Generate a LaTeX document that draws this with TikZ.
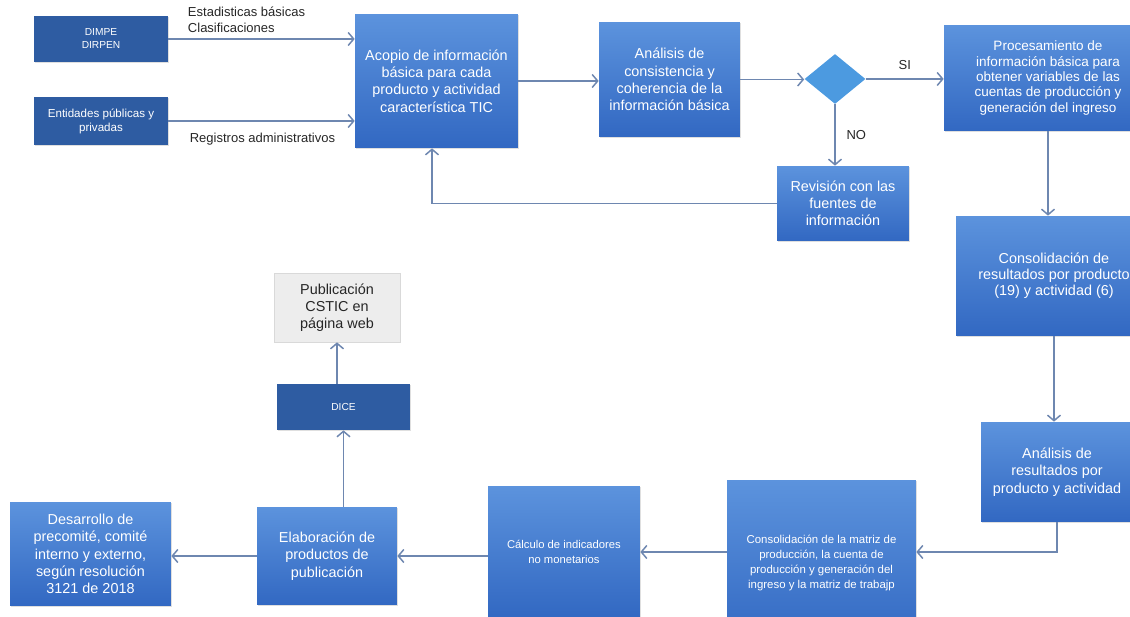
\documentclass[tikz,border=0pt]{standalone}
\usepackage{fontspec}
\setmainfont{Liberation Sans}
\usetikzlibrary{shapes.geometric, arrows, arrows.meta, positioning, shadows}
\definecolor{boxtop}{HTML}{5C93DD}
\definecolor{boxbot}{HTML}{3268C2}
\definecolor{darkbox}{HTML}{2E5CA2}
\definecolor{diamondcol}{HTML}{4C9AE0}
\definecolor{arrowcol}{HTML}{6E87B0}
\definecolor{webfill}{HTML}{EDEDED}
\tikzstyle{process} = [rectangle, align=center, top color=boxtop, bottom color=boxbot, draw=none, text=white, font=\fontsize{8.2}{9.8}\selectfont, drop shadow={opacity=0.25, shadow xshift=0.6pt, shadow yshift=-0.6pt}]
\tikzstyle{sourcebox} = [rectangle, align=center, fill=darkbox, draw=none, text=white, font=\fontsize{5.8}{7.4}\selectfont, drop shadow={opacity=0.25, shadow xshift=0.6pt, shadow yshift=-0.6pt}]
\tikzstyle{decision} = [diamond, inner sep=0pt, fill=diamondcol, draw=none]
\tikzstyle{webbox} = [rectangle, align=center, fill=webfill, draw=black!15, text=black!85, font=\fontsize{8.2}{9.8}\selectfont, drop shadow={opacity=0.2, shadow xshift=0.6pt, shadow yshift=-0.6pt}]
\tikzstyle{note} = [align=left, text=black!85, font=\fontsize{7.4}{8.9}\selectfont]
\tikzstyle{arrow} = [draw=arrowcol, line width=0.85pt, ->, >={Straight Barb[length=1.1mm, width=2.6mm]}]

\begin{document}
\begin{tikzpicture}[x=0.02cm, y=-0.02cm]
\useasboundingbox (0,0) rectangle (1130,617);

\node (dimpe) [sourcebox, minimum width=2.68cm, minimum height=0.92cm] at (101,39) {DIMPE\\DIRPEN};
\node (entidades) [sourcebox, minimum width=2.68cm, minimum height=0.96cm, font=\fontsize{6.6}{8}\selectfont] at (101,121) {Entidades públicas y\\privadas};
\node (acopio) [process, minimum width=3.26cm, minimum height=2.68cm] at (436.5,81) {Acopio de información\\básica para cada\\producto y actividad\\característica TIC};
\node (analisis) [process, minimum width=2.82cm, minimum height=2.3cm] at (669.5,79.5) {Análisis de\\consistencia y\\coherencia de la\\información básica};
\node (check) [decision, minimum width=1.22cm, minimum height=1cm] at (835,79) {};
\node (proces) [process, minimum width=4.16cm, minimum height=2.12cm, font=\fontsize{7.7}{8.7}\selectfont] at (1048,78) {Procesamiento de\\información básica para\\obtener variables de las\\cuentas de producción y\\generación del ingreso};
\node (revision) [process, minimum width=2.64cm, minimum height=1.5cm] at (843,203.5) {Revisión con las\\fuentes de\\información};
\node (consres) [process, minimum width=3.92cm, minimum height=2.4cm, font=\fontsize{8.2}{9.2}\selectfont] at (1054,276) {Consolidación de\\resultados por producto\\(19) y actividad (6)};
\node (analres) [process, minimum width=3.04cm, minimum height=2cm] at (1057,472) {Análisis de\\resultados por\\producto y actividad};
\node (matriz) [process, minimum width=3.78cm, minimum height=3.32cm, font=\fontsize{6.5}{8.7}\selectfont] at (821.5,563) {Consolidación de la matriz de\\producción, la cuenta de\\producción y generación del\\ingreso y la matriz de trabajp};
\node (calculo) [process, minimum width=3.04cm, minimum height=2.64cm, font=\fontsize{6.4}{8.5}\selectfont] at (564,552) {Cálculo de indicadores\\no monetarios};
\node (elabora) [process, minimum width=2.8cm, minimum height=1.96cm] at (327,556) {Elaboración de\\productos de\\publicación};
\node (desarrollo) [process, minimum width=3.22cm, minimum height=2.08cm] at (90.5,554) {Desarrollo de\\precomité, comité\\interno y externo,\\según resolución\\3121 de 2018};
\node (dice) [sourcebox, minimum width=2.66cm, minimum height=0.92cm] at (343.5,407) {DICE};
\node (web) [webbox, minimum width=2.52cm, minimum height=1.38cm] at (337,307.5) {Publicación\\CSTIC en\\página web};

\draw [arrow] (dimpe.east) -- node[note, pos=0.07, anchor=south west] {Estadisticas básicas\\Clasificaciones} (dimpe.east -| acopio.west);
\draw [arrow] (entidades.east) -- node[note, pos=0.08, anchor=north west, yshift=-0.1cm] {Registros administrativos} (entidades.east -| acopio.west);
\draw [arrow] (acopio.east) -- (acopio.east -| analisis.west);
\draw [arrow] (analisis.east) -- (analisis.east -| check.west);
\draw [arrow] (check.east) -- node[note, above, yshift=0.05cm] {SI} (check.east -| proces.west);
\draw [arrow] (check.south) -- node[note, right, xshift=0.1cm] {NO} (check.south |- revision.north);
\draw [arrow] (revision.west) -| ([xshift=-0.09cm]acopio.south);
\draw [arrow] (proces.south) -- (proces.south |- consres.north);
\draw [arrow] (consres.south) -- (consres.south |- analres.north);
\draw [arrow] (analres.south) |- ([yshift=0.22cm]matriz.east);
\draw [arrow] (matriz.west |- calculo.east) -- (calculo.east);
\draw [arrow] (calculo.west |- elabora.east) -- (elabora.east);
\draw [arrow] (elabora.west) -- (elabora.west -| desarrollo.east);
\draw [arrow] (elabora.north -| dice.south) -- (dice.south);
\draw [arrow] (dice.north -| web.south) -- (web.south);

\end{tikzpicture}
\end{document}
